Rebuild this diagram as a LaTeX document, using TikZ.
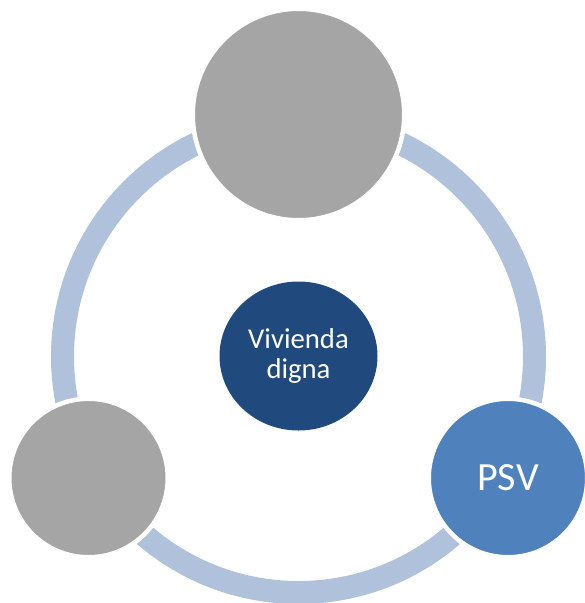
\documentclass[tikz,border=0pt]{standalone}
\usepackage{fontspec}
\setmainfont{Carlito}
\usetikzlibrary{shapes.geometric}
\definecolor{ringc}{RGB}{176,193,219}
\definecolor{greyc}{RGB}{165,165,165}
\definecolor{darkc}{RGB}{32,74,126}
\definecolor{psvc}{RGB}{79,129,189}
\tikzset{
  bubble/.style={circle, inner sep=0pt, draw=white, line width=4.5pt, text=white, align=center},
  hub/.style={ellipse, inner sep=0pt, fill=darkc, minimum width=158pt, minimum height=149pt, text=white, align=center,
    font=\fontsize{28.7pt}{30pt}\selectfont},
  ringline/.style={draw=ringc, line width=23pt}
}
\begin{document}
\begin{tikzpicture}[x=1pt,y=-1pt]
\useasboundingbox (0,0) rectangle (585,603);
\coordinate (c) at (298.5,356.5);
\draw[ringline] (c) circle[radius=236];
\node[bubble, fill=greyc, minimum size=211.5pt] (top) at (298.5,114.5) {};
\node[bubble, fill=greyc, minimum size=158.5pt] (left) at (88.5,478) {};
\node[bubble, fill=psvc, minimum size=158.5pt, font=\fontsize{40pt}{44pt}\selectfont] (psv) at (508,478) {PSV};
\node[hub] (hub) at (298.5,356) {Vivienda\\digna};
\end{tikzpicture}
\end{document}
